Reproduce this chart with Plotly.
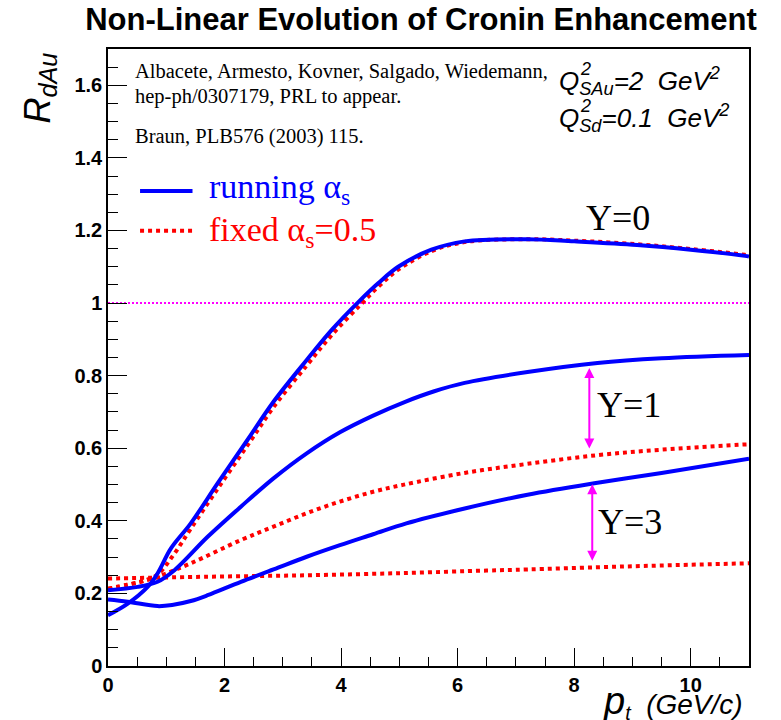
import plotly.graph_objects as go

# ---------------- data ----------------
# Y = 0, running coupling
x_y0_run = [0, 0.34, 0.68, 0.85, 1.08, 1.42, 1.88, 2.39, 2.84, 3.41, 3.84, 4.33, 4.64, 4.98, 5.55, 6.12, 7.2, 8.0, 9.08, 10.0, 10.93, 11.0]
r_y0_run = [0.140, 0.172, 0.218, 0.255, 0.324, 0.393, 0.503, 0.622, 0.728, 0.843, 0.926, 1.008, 1.055, 1.10, 1.147, 1.17, 1.176, 1.17, 1.16, 1.147, 1.13, 1.128]
# Y = 0, fixed coupling
x_y0_fix = [0, 0.34, 0.6, 0.85, 1.14, 1.42, 1.88, 2.39, 2.84, 3.41, 3.84, 4.33, 4.64, 4.98, 5.55, 6.12, 7.2, 8.0, 9.08, 10.0, 10.93, 11.0]
r_y0_fix = [0.213, 0.224, 0.234, 0.252, 0.31, 0.378, 0.488, 0.607, 0.713, 0.828, 0.912, 0.995, 1.045, 1.092, 1.143, 1.168, 1.176, 1.172, 1.162, 1.149, 1.133, 1.131]
# Y = 1, running coupling
x_y1_run = [0, 0.51, 0.85, 1.14, 1.71, 2.28, 2.84, 3.41, 3.98, 4.55, 5.1, 5.6, 6.12, 7.2, 8.4, 9.5, 11.0]
r_y1_run = [0.209, 0.218, 0.232, 0.264, 0.356, 0.439, 0.517, 0.586, 0.644, 0.69, 0.728, 0.757, 0.78, 0.81, 0.835, 0.848, 0.857]
# Y = 1, fixed coupling
x_y1_fix = [0, 0.34, 0.6, 0.85, 1.42, 2.28, 2.84, 3.41, 3.98, 4.55, 5.06, 6.12, 7.2, 8.4, 9.5, 11.0]
r_y1_fix = [0.213, 0.224, 0.234, 0.246, 0.283, 0.347, 0.384, 0.421, 0.453, 0.48, 0.499, 0.532, 0.557, 0.581, 0.596, 0.611]
# Y = 3, running coupling
x_y3_run = [0, 0.34, 0.85, 1.1, 1.42, 1.71, 2.28, 2.84, 3.41, 3.98, 4.55, 5.12, 6.12, 7.2, 8.4, 9.5, 11.0]
r_y3_run = [0.183, 0.177, 0.165, 0.168, 0.179, 0.195, 0.232, 0.266, 0.301, 0.333, 0.363, 0.393, 0.434, 0.472, 0.505, 0.532, 0.571]
# Y = 3, fixed coupling
x_y3_fix = [0, 1.71, 3.41, 5.06, 6.5, 7.2, 8.4, 9.5, 11.0]
r_y3_fix = [0.241, 0.246, 0.25, 0.256, 0.263, 0.266, 0.272, 0.277, 0.283]

ref_x = [0, 11]
ref_y = [1, 1]

# legend samples (x extent and y levels in data units)
leg_x = [0.55, 1.45]
leg_y_run = 1.309
leg_y_fix = 1.199

# gap arrows: x position, top, bottom
arrow_y1 = (8.26, 0.821, 0.595)
arrow_y3 = (8.31, 0.501, 0.286)

BLUE = "#0000ff"
RED = "#ff0000"
MAG = "#ff00ff"
SANS = "Liberation Sans, Arial, sans-serif"
SERIF = "Liberation Serif, Times New Roman, serif"

fig = go.Figure()

fig.add_trace(go.Scatter(x=ref_x, y=ref_y, mode="lines",
                         line=dict(color=MAG, width=2, dash="2px,2px"), hoverinfo="skip"))

for xs, ys in [(x_y3_fix, r_y3_fix), (x_y1_fix, r_y1_fix), (x_y0_fix, r_y0_fix)]:
    fig.add_trace(go.Scatter(x=xs, y=ys, mode="lines", line_shape="spline",
                             line=dict(color=RED, width=4, dash="dot", smoothing=1.0)))
for xs, ys in [(x_y3_run, r_y3_run), (x_y1_run, r_y1_run), (x_y0_run, r_y0_run)]:
    fig.add_trace(go.Scatter(x=xs, y=ys, mode="lines", line_shape="spline",
                             line=dict(color=BLUE, width=4, smoothing=1.0)))

# legend sample lines
fig.add_trace(go.Scatter(x=leg_x, y=[leg_y_run, leg_y_run], mode="lines",
                         line=dict(color=BLUE, width=4)))
fig.add_trace(go.Scatter(x=leg_x, y=[leg_y_fix, leg_y_fix], mode="lines",
                         line=dict(color=RED, width=4, dash="dot")))

ann = []
def text(x, y, s, size, family=SERIF, color="black", xanchor="left", yanchor="middle",
         xref="x", yref="y", **kw):
    ann.append(dict(x=x, y=y, xref=xref, yref=yref, text=s, showarrow=False,
                    xanchor=xanchor, yanchor=yanchor,
                    font=dict(size=size, family=family, color=color), **kw))

# citation text
text(0.427, 1.639, "Albacete, Armesto, Kovner, Salgado, Wiedemann,", 20.5)
text(0.427, 1.570, "hep-ph/0307179, PRL to appear.", 20.5)
text(0.427, 1.460, "Braun, PLB576 (2003) 115.", 20.5)

# legend text
text(1.706, 1.314, "running α<sub>s</sub>", 34, color=BLUE)
text(1.706, 1.195, "fixed α<sub>s</sub>=0.5", 34, color=RED)

# saturation scales
text(7.70, 1.613, "<i>Q<sub>SAu</sub>=2  GeV<sup>2</sup></i>", 26, family=SANS)
text(7.70, 1.511, "<i>Q<sub>Sd</sub>=0.1  GeV<sup>2</sup></i>", 26, family=SANS)
text(8.07, 1.646, "<i>2</i>", 18, family=SANS)
text(8.07, 1.544, "<i>2</i>", 18, family=SANS)

# rapidity labels
text(8.75, 1.235, "Y=0", 36, xanchor="center")
text(8.94, 0.719, "Y=1", 36, xanchor="center")
text(8.96, 0.396, "Y=3", 36, xanchor="center")

# axis titles (paper coordinates)
text(-0.106, 0.936, "<i>R<sub>dAu</sub></i>", 36, family=SANS, xanchor="center",
     xref="paper", yref="paper", textangle=-90)
text(0.994, -0.058,
     "<i><span style=\"font-size:38px\">p</span><sub>t</sub>\u00a0\u00a0(GeV/c)</i>",
     28, family=SANS, xanchor="right", xref="paper", yref="paper")

# arrows
for ax_x, top, bot in [arrow_y1, arrow_y3]:
    ann.append(dict(x=ax_x, y=top, ax=ax_x, ay=bot, xref="x", yref="y", axref="x", ayref="y",
                    text="", showarrow=True, arrowside="end+start", arrowhead=2,
                    startarrowhead=2, arrowwidth=2, arrowsize=1, startarrowsize=1,
                    arrowcolor=MAG, standoff=0, startstandoff=0))

fig.update_layout(
    width=781, height=720,
    margin=dict(l=108, r=32, t=49, b=54),
    paper_bgcolor="white", plot_bgcolor="white",
    showlegend=False,
    title=dict(text="<b>Non-Linear Evolution of Cronin Enhancement</b>",
               x=421 / 781, xref="container", xanchor="center",
               y=1 - 19.5 / 720, yref="container", yanchor="middle",
               font=dict(size=31, family=SANS, color="black")),
    annotations=ann,
)

axis_common = dict(showgrid=False, zeroline=False, showline=True, linecolor="black",
                   linewidth=1.5, mirror=True, ticks="inside", tickcolor="black",
                   tickwidth=1,
                   tickfont=dict(size=20, family=SANS, color="black", weight="bold"))
fig.update_xaxes(range=[0, 11], dtick=2, tick0=0, ticklen=18,
                 minor=dict(dtick=0.5, ticklen=9, ticks="inside", tickcolor="black", tickwidth=1),
                 **axis_common)
fig.update_yaxes(range=[0, 1.7], dtick=0.2, tick0=0, ticklen=19,
                 minor=dict(dtick=0.05, ticklen=10, ticks="inside", tickcolor="black", tickwidth=1),
                 **axis_common)

fig.write_html("out.html")
